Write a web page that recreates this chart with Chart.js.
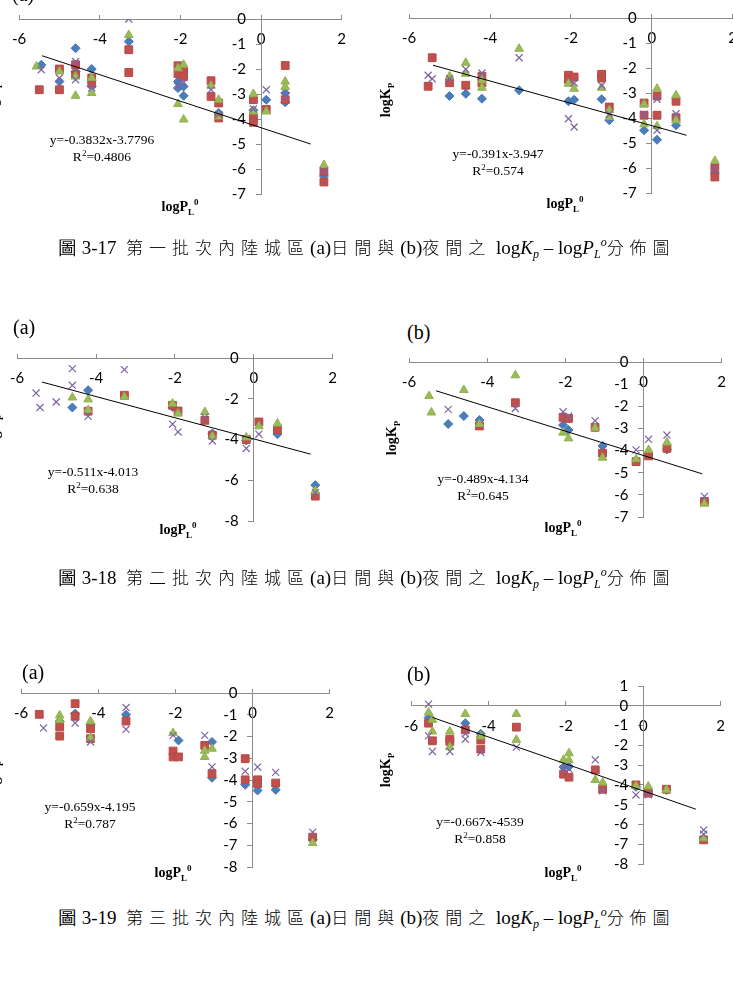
<!DOCTYPE html>
<html>
<head>
<meta charset="utf-8">
<script src="https://cdn.jsdelivr.net/npm/chart.js@4.4.0/dist/chart.umd.min.js"></script>
<style>
  body { margin: 0; width: 733px; height: 983px; overflow: hidden; background: #fff; position: relative; font-family: "Liberation Serif", serif; }
  canvas { position: absolute; }
  .t { position: absolute; white-space: nowrap; color: #000; }
  .eq { font-size: 13.5px; text-align: center; width: 160px; margin-left: -80px; line-height: 17px; }
  .xt { font-weight: bold; font-size: 14px; width: 80px; margin-left: -40px; text-align: center; }
  .yt { font-weight: bold; font-size: 14px; transform: rotate(-90deg); transform-origin: center; width: 60px; height: 18px; margin-left: -30px; margin-top: -9px; text-align: center; }
  .pl { font-size: 20px; }
  .cap { font-size: 19px; left: 58px; }
  .cj { font-family: "Noto Sans CJK TC", sans-serif; font-size: 17px; letter-spacing: 6px; font-weight: 300; }
  .cap i { font-style: italic; }
  .cap sub { font-size: 12px; vertical-align: -4px; line-height: 0; }
  .cap sup { font-size: 12px; vertical-align: 8px; line-height: 0; }
  sub, sup { line-height: 0; }
</style>
</head>
<body>

<div class="t pl" style="left:12px;top:-17px">(a)</div>
<div class="t pl" style="left:13px;top:316px">(a)</div>
<div class="t pl" style="left:407px;top:321px">(b)</div>
<div class="t pl" style="left:22px;top:661px">(a)</div>
<div class="t pl" style="left:407px;top:663px">(b)</div>

<div class="t eq" style="left:102px;top:131px">y=-0.3832x-3.7796<br>R<sup style="font-size:9px">2</sup>=0.4806</div>
<div class="t eq" style="left:498px;top:145px">y=-0.391x-3.947<br>R<sup style="font-size:9px">2</sup>=0.574</div>
<div class="t eq" style="left:93px;top:463px">y=-0.511x-4.013<br>R<sup style="font-size:9px">2</sup>=0.638</div>
<div class="t eq" style="left:483px;top:470px">y=-0.489x-4.134<br>R<sup style="font-size:9px">2</sup>=0.645</div>
<div class="t eq" style="left:90px;top:798px">y=-0.659x-4.195<br>R<sup style="font-size:9px">2</sup>=0.787</div>
<div class="t eq" style="left:480px;top:813px">y=-0.667x-4539<br>R<sup style="font-size:9px">2</sup>=0.858</div>

<div class="t xt" style="left:180px;top:199px">logP<sub style="font-size:9px">L</sub><sup style="font-size:9px">0</sup></div>
<div class="t xt" style="left:565px;top:196px">logP<sub style="font-size:9px">L</sub><sup style="font-size:9px">0</sup></div>
<div class="t xt" style="left:178px;top:522px">logP<sub style="font-size:9px">L</sub><sup style="font-size:9px">0</sup></div>
<div class="t xt" style="left:563px;top:520px">logP<sub style="font-size:9px">L</sub><sup style="font-size:9px">0</sup></div>
<div class="t xt" style="left:173px;top:865px">logP<sub style="font-size:9px">L</sub><sup style="font-size:9px">0</sup></div>
<div class="t xt" style="left:563px;top:865px">logP<sub style="font-size:9px">L</sub><sup style="font-size:9px">0</sup></div>

<div class="t yt" style="left:-5px;top:100px">logK<sub style="font-size:9px">P</sub></div>
<div class="t yt" style="left:387px;top:100px">logK<sub style="font-size:9px">P</sub></div>
<div class="t yt" style="left:-4px;top:432px">logK<sub style="font-size:9px">P</sub></div>
<div class="t yt" style="left:393px;top:438px">logK<sub style="font-size:9px">P</sub></div>
<div class="t yt" style="left:-4px;top:778px">logK<sub style="font-size:9px">P</sub></div>
<div class="t yt" style="left:387px;top:770px">logK<sub style="font-size:9px">P</sub></div>

<div class="t cap" style="top:234px">圖 3-17&nbsp; <span class="cj">第一批次內陸城區</span>(a)<span class="cj">日間與</span>(b)<span class="cj">夜間之</span> log<i>K<sub>p</sub></i> – log<i>P<sub>L</sub><sup>o</sup></i><span class="cj">分佈圖</span></div>
<div class="t cap" style="top:564px">圖 3-18&nbsp; <span class="cj">第二批次內陸城區</span>(a)<span class="cj">日間與</span>(b)<span class="cj">夜間之</span> log<i>K<sub>p</sub></i> – log<i>P<sub>L</sub><sup>o</sup></i><span class="cj">分佈圖</span></div>
<div class="t cap" style="top:904px">圖 3-19&nbsp; <span class="cj">第三批次內陸城區</span>(a)<span class="cj">日間與</span>(b)<span class="cj">夜間之</span> log<i>K<sub>p</sub></i> – log<i>P<sub>L</sub><sup>o</sup></i><span class="cj">分佈圖</span></div>

<script>
// x ticks, shared by all panels
var xTicks = [-6, -4, -2, 0, 2];

// ---- batch 1, day (a) ----
var b1DayBlue = [[-5.45,-1.83],[-5.0,-2.5],[-4.6,-1.17],[-4.6,-2.1],[-4.2,-2.0],[-4.2,-2.7],[-3.28,-0.9],[-2.06,-2.5],[-2.06,-2.76],[-1.92,-2.7],[-1.92,-3.07],[-1.05,-3.76],[-0.19,-3.65],[0.13,-3.23],[0.6,-2.96],[0.6,-3.33],[1.56,-6.28]];
var b1DayRed = [[-5.5,-2.83],[-5.0,-2.0],[-5.0,-2.83],[-4.6,-1.83],[-4.6,-2.23],[-4.2,-2.36],[-4.2,-2.56],[-3.28,-1.23],[-3.28,-2.14],[-2.06,-1.87],[-2.06,-2.19],[-1.92,-2.1],[-1.92,-2.3],[-1.24,-2.47],[-1.24,-3.1],[-1.05,-3.36],[-1.05,-3.96],[-0.19,-3.23],[-0.19,-3.96],[-0.19,-4.13],[0.13,-3.62],[0.6,-1.86],[0.6,-3.23],[1.56,-6.1],[1.56,-6.52]];
var b1DayGreen = [[-5.57,-1.9],[-5.0,-2.1],[-4.6,-2.3],[-4.6,-3.07],[-4.2,-2.36],[-4.2,-2.96],[-3.28,-0.64],[-2.06,-1.97],[-2.06,-3.4],[-1.92,-1.83],[-1.92,-4.02],[-1.24,-2.67],[-1.05,-3.23],[-1.05,-3.9],[-0.19,-3.0],[-0.19,-3.7],[0.13,-3.7],[0.6,-2.5],[0.6,-2.72],[1.56,-5.84]];
var b1DayPurple = [[-5.45,-2.03],[-5.0,-2.36],[-4.6,-1.7],[-4.6,-2.43],[-4.2,-2.76],[-3.28,0],[-2.06,-2.7],[-1.92,-2.54],[-1.24,-2.83],[-1.05,-3.82],[-0.19,-3.6],[0.13,-2.83],[0.6,-3.1],[1.56,-6.08]];
var b1DayTrend = [[-5.43,-1.47],[1.23,-5.0]];

// ---- batch 1, night (b) ----
var b1NightBlue = [[-5.0,-3.12],[-4.6,-3.03],[-4.2,-3.23],[-3.28,-2.89],[-2.06,-3.33],[-1.92,-3.27],[-1.24,-3.25],[-1.05,-4.09],[-0.19,-4.49],[0.13,-4.87],[0.6,-4.29],[1.56,-6.2]];
var b1NightRed = [[-5.53,-2.73],[-5.43,-1.59],[-5.0,-2.59],[-4.6,-2.69],[-4.2,-2.33],[-4.2,-2.6],[-2.06,-2.29],[-2.06,-2.47],[-1.92,-2.36],[-1.24,-2.25],[-1.24,-2.4],[-1.05,-3.56],[-0.19,-3.4],[-0.19,-3.89],[0.13,-3.12],[0.13,-3.89],[0.6,-3.33],[0.6,-3.99],[1.56,-6.0],[1.56,-6.36]];
var b1NightGreen = [[-5.0,-2.33],[-4.6,-1.79],[-4.6,-2.23],[-4.2,-2.49],[-4.2,-2.79],[-3.28,-1.23],[-2.06,-2.63],[-1.92,-2.83],[-1.24,-2.79],[-1.05,-3.69],[-1.05,-3.96],[-0.19,-3.45],[-0.19,-4.25],[0.13,-2.83],[0.13,-4.33],[0.6,-3.09],[0.6,-4.09],[1.56,-5.72]];
var b1NightPurple = [[-5.53,-2.29],[-5.43,-2.43],[-5.0,-2.43],[-4.6,-2.05],[-4.2,-2.2],[-3.28,-1.59],[-2.06,-4.03],[-1.92,-2.6],[-1.92,-4.36],[-1.24,-2.7],[-1.05,-3.85],[-0.19,-3.85],[0.13,-3.25],[0.13,-4.49],[0.6,-3.83],[1.56,-6.03]];
var b1NightTrend = [[-5.41,-1.89],[0.86,-4.69]];

// ---- batch 2, day (a) ----
var b2DayBlue = [[-4.6,-2.43],[-4.2,-1.58],[-2.06,-2.4],[-1.05,-3.7],[-0.19,-4.05],[0.6,-3.74],[1.56,-6.24]];
var b2DayRed = [[-4.2,-2.61],[-3.28,-1.83],[-2.06,-2.32],[-1.92,-2.6],[-1.24,-3.06],[-1.05,-3.79],[-0.19,-4.0],[0.13,-3.14],[0.6,-3.51],[1.56,-6.78]];
var b2DayGreen = [[-4.6,-1.94],[-4.2,-2.03],[-4.2,-2.56],[-3.28,-1.91],[-2.06,-2.24],[-1.92,-2.73],[-1.24,-2.65],[-1.05,-3.85],[-0.19,-3.9],[0.13,-3.35],[0.6,-3.22],[1.56,-6.52]];
var b2DayPurple = [[-5.52,-1.72],[-5.42,-2.43],[-5.01,-2.16],[-4.6,-0.52],[-4.6,-1.34],[-4.2,-2.86],[-3.28,-0.57],[-2.06,-3.25],[-1.92,-3.63],[-1.24,-2.9],[-1.05,-4.07],[-0.19,-4.44],[0.13,-3.74],[1.56,-6.6]];
var b2DayTrend = [[-5.37,-1.18],[1.44,-4.72]];

// ---- batch 2, night (b) ----
var b2NightBlue = [[-5.0,-2.8],[-4.6,-2.44],[-4.2,-2.62],[-2.06,-2.85],[-1.92,-3.07],[-1.05,-3.79],[0.6,-3.95]];
var b2NightRed = [[-4.2,-2.89],[-3.28,-1.84],[-2.06,-2.5],[-1.92,-2.55],[-1.24,-2.95],[-1.05,-4.12],[-0.19,-4.5],[0.13,-4.24],[0.6,-3.9],[1.56,-6.3]];
var b2NightGreen = [[-5.49,-1.54],[-5.43,-2.28],[-4.6,-1.27],[-4.2,-2.8],[-3.28,-0.6],[-2.06,-3.19],[-1.92,-3.45],[-1.24,-2.98],[-1.05,-4.32],[-0.19,-4.39],[0.13,-3.97],[0.6,-3.64],[1.56,-6.4]];
var b2NightPurple = [[-5.0,-2.14],[-3.28,-2.1],[-2.06,-2.25],[-1.92,-2.45],[-1.24,-2.65],[-0.19,-3.97],[0.13,-3.49],[0.6,-3.3],[1.56,-6.07]];
var b2NightTrend = [[-5.31,-1.3],[1.5,-5.05]];

// ---- batch 3, day (a) ----
var b3DayBlue = [[-5.0,-1.3],[-4.6,-0.95],[-4.2,-1.45],[-3.28,-1.0],[-1.92,-2.18],[-1.05,-2.25],[-1.05,-3.9],[-0.19,-4.22],[0.13,-4.48],[0.6,-4.45],[1.56,-6.75]];
var b3DayRed = [[-5.53,-0.98],[-5.0,-1.56],[-5.0,-1.98],[-4.6,-0.49],[-4.6,-1.07],[-4.2,-1.64],[-4.2,-2.1],[-3.28,-1.29],[-2.06,-2.67],[-2.06,-2.94],[-1.92,-2.94],[-1.24,-2.41],[-1.05,-3.71],[-0.19,-3.02],[-0.19,-3.99],[0.13,-3.99],[0.13,-4.17],[0.6,-4.14],[1.56,-6.63]];
var b3DayGreen = [[-5.0,-1.03],[-5.0,-1.25],[-4.2,-1.3],[-4.2,-2.06],[-2.06,-1.84],[-1.24,-2.65],[-1.24,-2.94],[-1.05,-2.56],[1.56,-6.9]];
var b3DayPurple = [[-5.42,-1.61],[-4.6,-1.38],[-4.2,-2.25],[-3.28,-0.67],[-3.28,-1.67],[-2.06,-1.95],[-1.24,-1.95],[-1.05,-3.4],[-0.19,-3.6],[0.13,-3.4],[0.6,-3.65],[1.56,-6.4]];

// ---- batch 3, night (b) ----
var b3NightBlue = [[-5.55,-0.6],[-4.6,-0.88],[-4.2,-1.42],[-2.06,-3.1],[-1.92,-3.07],[-0.19,-4.1],[0.13,-4.35],[0.6,-4.25]];
var b3NightRed = [[-5.55,-0.88],[-5.45,-1.77],[-5.0,-1.69],[-5.0,-1.8],[-4.6,-1.22],[-4.2,-1.72],[-4.2,-2.19],[-3.28,-1.08],[-2.06,-3.46],[-1.92,-3.61],[-1.24,-3.24],[-1.05,-4.22],[-0.19,-4.0],[0.13,-4.42],[0.6,-4.22],[1.56,-6.78]];
var b3NightGreen = [[-5.55,-0.34],[-5.45,-0.71],[-5.45,-1.3],[-5.0,-1.3],[-5.0,-2.09],[-4.6,-0.41],[-4.2,-1.55],[-3.28,-0.41],[-3.28,-1.72],[-2.06,-2.73],[-1.92,-2.4],[-1.92,-2.75],[-1.24,-3.75],[-1.05,-3.88],[-0.19,-4.05],[0.13,-4.08],[0.6,-4.25],[1.56,-6.7]];
var b3NightPurple = [[-5.55,0.08],[-5.55,-1.52],[-5.45,-2.31],[-5.0,-2.31],[-4.6,-1.42],[-4.6,-1.69],[-4.2,-2.36],[-3.28,-2.09],[-2.06,-3.2],[-1.92,-3.2],[-1.24,-2.73],[-1.05,-4.3],[-0.19,-4.51],[0.13,-4.5],[1.56,-6.28],[1.56,-6.5]];
var b3NightTrend = [[-5.45,-0.59],[1.36,-5.23]];

var PAD = 14;
var axisColor = '#8c8c8c';

function pts(arr) {
  return arr.map(function(p) { return { x: p[0], y: p[1] }; });
}

// box: pixel position of xmin / xmax / ymax / ymin on the page
function makeChart(box, yMin, yMax, yStep, blue, red, green, purple, trend) {
  var cv = document.createElement('canvas');
  var w = box.right - box.left + PAD * 2;
  var h = box.bottom - box.top + PAD * 2;
  cv.width = w; cv.height = h;
  cv.style.left = (box.left - PAD) + 'px';
  cv.style.top = (box.top - PAD) + 'px';
  cv.style.width = w + 'px'; cv.style.height = h + 'px';
  document.body.insertBefore(cv, document.body.firstChild);

  var datasets = [];
  if (trend) {
    datasets.push({ data: pts(trend), showLine: true, borderColor: '#000', borderWidth: 1, pointRadius: 0, fill: false });
  }
  datasets.push({ data: pts(purple), pointStyle: 'crossRot', pointRadius: 5, borderColor: '#8064A2', borderWidth: 1.2 });
  datasets.push({ data: pts(green), pointStyle: 'triangle', pointRadius: 5, backgroundColor: '#9BBB59', borderColor: '#8fb04c', borderWidth: 1 });
  datasets.push({ data: pts(red), pointStyle: 'rect', pointRadius: 5.5, backgroundColor: '#C0504D', borderColor: '#b94845', borderWidth: 1 });
  datasets.push({ data: pts(blue), pointStyle: 'rectRot', pointRadius: 4.5, backgroundColor: '#4A7EBB', borderColor: '#4375b3', borderWidth: 1 });

  new Chart(cv.getContext('2d'), {
    type: 'scatter',
    data: { datasets: datasets },
    options: {
      responsive: false,
      animation: false,
      events: [],
      layout: { padding: PAD },
      plugins: { legend: { display: false }, tooltip: { enabled: false } },
      scales: {
        x: {
          type: 'linear', min: -6, max: 2,
          position: { y: 0 },
          afterBuildTicks: function(s) { s.ticks = xTicks.map(function(v) { return { value: v }; }); },
          ticks: { color: '#000', font: { family: 'Lato', size: 15 }, padding: 16, autoSkip: false },
          grid: { drawOnChartArea: false, color: axisColor, tickLength: -5 },
          border: { color: axisColor }
        },
        y: {
          type: 'linear', min: yMin, max: yMax,
          position: { x: 0 },
          ticks: { stepSize: yStep, color: '#000', font: { family: 'Lato', size: 15 }, autoSkip: false,
            callback: function(v) { return v + '\u2002\u2002'; } },
          grid: { drawOnChartArea: false, color: axisColor, tickLength: 5 },
          border: { color: axisColor }
        }
      }
    }
  });
}

makeChart({ left: 10, right: 348, top: 19, bottom: 194 }, -7, 0, 1, b1DayBlue, b1DayRed, b1DayGreen, b1DayPurple, b1DayTrend);
makeChart({ left: 400, right: 739, top: 18, bottom: 193 }, -7, 0, 1, b1NightBlue, b1NightRed, b1NightGreen, b1NightPurple, b1NightTrend);
makeChart({ left: 8, right: 339, top: 358, bottom: 521 }, -8, 0, 2, b2DayBlue, b2DayRed, b2DayGreen, b2DayPurple, b2DayTrend);
makeChart({ left: 400, right: 728, top: 362, bottom: 517 }, -7, 0, 1, b2NightBlue, b2NightRed, b2NightGreen, b2NightPurple, b2NightTrend);
makeChart({ left: 12, right: 336, top: 693, bottom: 867 }, -8, 0, 1, b3DayBlue, b3DayRed, b3DayGreen, b3DayPurple, null);
makeChart({ left: 402, right: 727, top: 686, bottom: 864 }, -8, 1, 1, b3NightBlue, b3NightRed, b3NightGreen, b3NightPurple, b3NightTrend);
</script>
</body>
</html>
